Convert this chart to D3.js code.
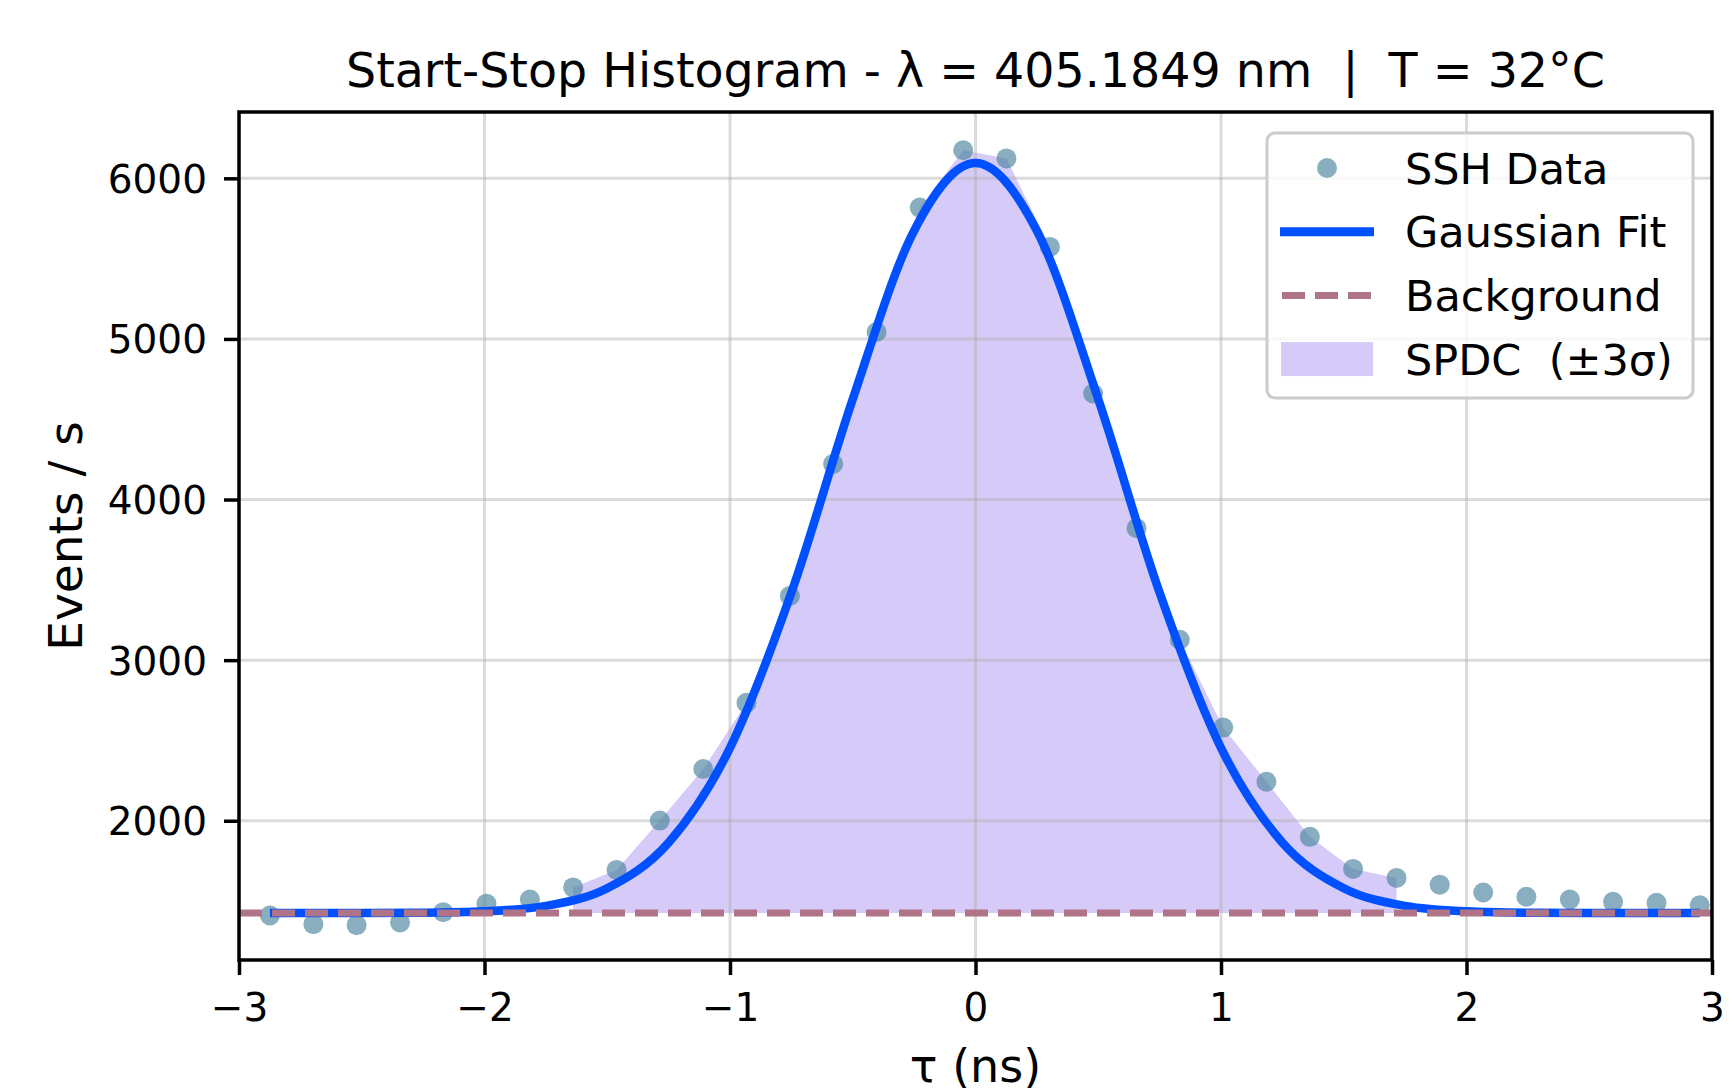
<!DOCTYPE html>
<meta charset="utf-8">
<script src="https://d3js.org/d3.v7.min.js"></script>
<style>
    body {
        margin: 0;
        background: #fff;
    }
    svg text {
        font-family: "DejaVu Sans", sans-serif;
        fill: #000;
        white-space: pre;
    }
    .grid line {
        stroke: #b0b0b0;
        stroke-opacity: 0.45;
        stroke-width: 3;
    }
    .axis path {
        display: none;
    }
    .axis line {
        stroke: #000;
        stroke-width: 3.5;
    }
    .axis text {
        font-size: 39px;
    }
</style>
<body>
<svg width="1734" height="1088" class="chart"></svg>
</body>

<script>
    // measured start-stop histogram (bin centre in ns, events / s)
    const tau = [-2.874, -2.697, -2.521, -2.344, -2.168, -1.992, -1.815, -1.639, -1.462, -1.286,
        -1.109, -0.933, -0.756, -0.580, -0.403, -0.227, -0.050, 0.126, 0.303, 0.479,
        0.656, 0.832, 1.009, 1.185, 1.362, 1.538, 1.715, 1.891, 2.068, 2.244,
        2.421, 2.597, 2.774, 2.950];
    const counts = [1410, 1356, 1350, 1367, 1431, 1484, 1510, 1585, 1694, 2001,
        2322, 2734, 3400, 4222, 5043, 5818, 6175, 6124, 5573, 4660,
        3822, 3127, 2580, 2243, 1900, 1700, 1644, 1602, 1553, 1527,
        1510, 1495, 1489, 1474];

    // gaussian fit
    const fitTau = [-2.874, -2.75, -2.5, -2.25, -2, -1.75, -1.5, -1.25, -1, -0.75, -0.5, -0.25, 0,
        0.25, 0.5, 0.75, 1, 1.25, 1.5, 1.75, 2, 2.25, 2.5, 2.75, 2.95];
    const fitCounts = [1425, 1425, 1425, 1427, 1436, 1470, 1580, 1864, 2454, 3420, 4625, 5674, 6095,
        5674, 4625, 3420, 2454, 1864, 1580, 1470, 1436, 1427, 1425, 1425, 1425];

    const background = 1425;
    const spdcWindow = [-1.725, 1.725]; // ±3σ

    const xTicks = [-3, -2, -1, 0, 1, 2, 3];
    const yTicks = [2000, 3000, 4000, 5000, 6000];
    const legendLabels = ['SSH Data', 'Gaussian Fit', 'Background', 'SPDC  (±3σ)'];

    const titleText = 'Start-Stop Histogram - λ = 405.1849 nm  |  T = 32°C';

    const colors = {
        dots: 'rgb(80,135,160)',
        fit: '#0050ff',
        bg: '#b07488',
        fill: '#d6caf8'
    };

    const margin = { top: 112, right: 22, bottom: 128, left: 239 },
        width = 1734 - margin.left - margin.right,
        height = 1088 - margin.top - margin.bottom;

    const svg = d3.select('.chart');
    svg.append('rect').attr('width', 1734).attr('height', 1088).attr('fill', '#fff');

    const x = d3.scaleLinear().domain([-3, 3]).range([0, width]);
    const y = d3.scaleLinear().domain([1133, 6413]).range([height, 0]);

    const g = svg.append('g')
        .attr('transform', 'translate(' + margin.left + ',' + margin.top + ')');

    g.append('clipPath').attr('id', 'plotClip')
        .append('rect').attr('width', width).attr('height', height);

    const plot = g.append('g').attr('clip-path', 'url(#plotClip)');

    // SPDC fill between background and data inside ±3σ
    const spdc = tau.map((t, i) => ({ t, c: counts[i] }))
        .filter(d => d.t >= spdcWindow[0] && d.t <= spdcWindow[1]);

    plot.append('path')
        .datum(spdc)
        .attr('fill', colors.fill)
        .attr('d', d3.area()
            .x(d => x(d.t))
            .y0(y(background))
            .y1(d => y(d.c)));

    // grid
    plot.append('g').attr('class', 'grid')
        .selectAll('line.v').data(xTicks).enter().append('line')
        .attr('x1', d => x(d)).attr('x2', d => x(d))
        .attr('y1', 0).attr('y2', height);
    plot.select('.grid')
        .selectAll('line.h').data(yTicks).enter().append('line')
        .attr('x1', 0).attr('x2', width)
        .attr('y1', d => y(d)).attr('y2', d => y(d));

    // data points
    plot.append('g')
        .selectAll('circle')
        .data(tau)
        .enter()
        .append('circle')
        .attr('cx', d => x(d))
        .attr('cy', (d, i) => y(counts[i]))
        .attr('r', 10)
        .attr('fill', colors.dots)
        .attr('fill-opacity', 0.68);

    // gaussian fit
    plot.append('path')
        .datum(fitTau.map((t, i) => [t, fitCounts[i]]))
        .attr('fill', 'none')
        .attr('stroke', colors.fit)
        .attr('stroke-width', 8.5)
        .attr('stroke-linejoin', 'round')
        .attr('d', d3.line().x(d => x(d[0])).y(d => y(d[1])).curve(d3.curveMonotoneX));

    // background level
    plot.append('line')
        .attr('x1', x(-3)).attr('x2', x(3))
        .attr('y1', y(background)).attr('y2', y(background))
        .attr('stroke', colors.bg)
        .attr('stroke-width', 7)
        .attr('stroke-dasharray', '23,10');

    // axes
    g.append('g')
        .attr('class', 'axis')
        .attr('transform', 'translate(0,' + height + ')')
        .call(d3.axisBottom(x).tickValues(xTicks).tickFormat(d3.format('d')).tickSize(15).tickPadding(18));

    g.append('g')
        .attr('class', 'axis')
        .call(d3.axisLeft(y).tickValues(yTicks).tickFormat(d3.format('d')).tickSize(15).tickPadding(17))
        .selectAll('text').attr('dy', '0.36em');

    // frame
    g.append('rect')
        .attr('width', width)
        .attr('height', height)
        .attr('fill', 'none')
        .attr('stroke', '#000')
        .attr('stroke-width', 3.5);

    // labels
    svg.append('text')
        .attr('x', margin.left + width / 2)
        .attr('y', 87)
        .attr('text-anchor', 'middle')
        .style('font-size', '47.5px')
        .text(titleText);

    svg.append('text')
        .attr('x', margin.left + width / 2)
        .attr('y', 1082)
        .attr('text-anchor', 'middle')
        .style('font-size', '46px')
        .text('τ (ns)');

    svg.append('text')
        .attr('transform', 'translate(82,' + (margin.top + height / 2) + ') rotate(-90)')
        .attr('text-anchor', 'middle')
        .style('font-size', '47px')
        .text('Events / s');

    // legend
    const legend = svg.append('g').attr('transform', 'translate(1267,133)');
    legend.append('rect')
        .attr('width', 426)
        .attr('height', 265)
        .attr('rx', 8)
        .attr('fill', '#fff')
        .attr('fill-opacity', 0.8)
        .attr('stroke', '#cccccc')
        .attr('stroke-width', 3);

    const rowY = i => 35 + i * 63.7;
    const hx0 = 13, hx1 = 107;

    legend.append('circle')
        .attr('cx', (hx0 + hx1) / 2).attr('cy', rowY(0))
        .attr('r', 10)
        .attr('fill', colors.dots).attr('fill-opacity', 0.68);

    legend.append('line')
        .attr('x1', hx0).attr('x2', hx1)
        .attr('y1', rowY(1)).attr('y2', rowY(1))
        .attr('stroke', colors.fit).attr('stroke-width', 9);

    legend.append('line')
        .attr('x1', hx0 + 2).attr('x2', hx1)
        .attr('y1', rowY(2)).attr('y2', rowY(2))
        .attr('stroke', colors.bg).attr('stroke-width', 7)
        .attr('stroke-dasharray', '23,10');

    legend.append('rect')
        .attr('x', hx0 + 1).attr('y', rowY(3) - 17)
        .attr('width', hx1 - hx0 - 2).attr('height', 34)
        .attr('fill', colors.fill);

    legend.selectAll('text.lbl')
        .data(legendLabels)
        .enter()
        .append('text')
        .attr('class', 'lbl')
        .attr('x', 138)
        .attr('y', (d, i) => rowY(i) + 15.5)
        .style('font-size', '43px')
        .text(d => d);
</script>
